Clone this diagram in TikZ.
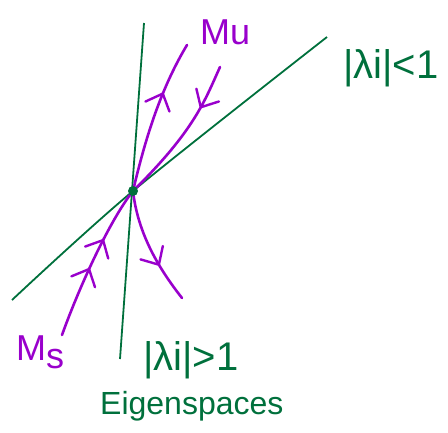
\documentclass[tikz,border=0pt]{standalone}
\usepackage{fontspec}
\setmainfont{Liberation Sans}
\usetikzlibrary{arrows.meta,decorations.markings}
\definecolor{eiggreen}{RGB}{0,112,60}
\definecolor{manpurple}{RGB}{153,0,204}
\tikzset{
  eigline/.style={eiggreen,line width=1.8pt},
  manline/.style={manpurple,line width=2.6pt,line cap=round},
  flowtip/.style={postaction={decorate,decoration={markings,
      mark=at position #1 with {\arrow[manpurple,line width=2.4pt]{Straight Barb[round,length=14pt,width=26pt]}}}}},
  eigtext/.style={eiggreen,font=\fontsize{32}{36}\selectfont,inner sep=0pt,anchor=base west},
  mantext/.style={manpurple,font=\fontsize{36}{40}\selectfont,inner sep=0pt,anchor=base west}
}
\begin{document}
\begin{tikzpicture}[x=1pt,y=-1pt]
    \useasboundingbox (0,0) rectangle (448,432);
    \coordinate (O) at (133,191);
    \coordinate (vtop) at (144,23);
    \coordinate (vbot) at (120,359);
    \coordinate (dlo) at (12,300);
    \coordinate (dhi) at (327,37);
    \coordinate (uend) at (187,45);
    \coordinate (ustart) at (220,67);
    \coordinate (sstart) at (62,335);
    \coordinate (send) at (182,298);
    % eigenspaces
    \draw [eigline](vtop)--(vbot);
    \draw [eigline] plot[smooth] coordinates {(dlo) (O) (dhi)};
    % manifolds
    \draw [manline,flowtip=0.66](O)..controls (145,140) and (160,90)..(uend);
    \draw [manline,flowtip=0.3](ustart)..controls (205,100) and (195,130)..(O);
    \draw [manline,flowtip=0.45,flowtip=0.65](sstart)..controls (80,285) and (110,220)..(O);
    \draw [manline,flowtip=0.67](O)..controls (138,235) and (160,270)..(send);
    \fill [eiggreen](O) circle (5pt);
    % labels
    \node [mantext] (mu) at (200,44){Mu};
    \node [mantext] (ms) at (16,360){M\raisebox{-8pt}{s}};
    \node [eigtext,font=\fontsize{40}{44}\selectfont] (lessone) at (343,78){|λi|<1};
    \node [eigtext,font=\fontsize{40}{44}\selectfont] (moreone) at (143,370){|λi|>1};
    \node [eigtext] (eigen) at (100,414){Eigenspaces};
\end{tikzpicture}
\end{document}
